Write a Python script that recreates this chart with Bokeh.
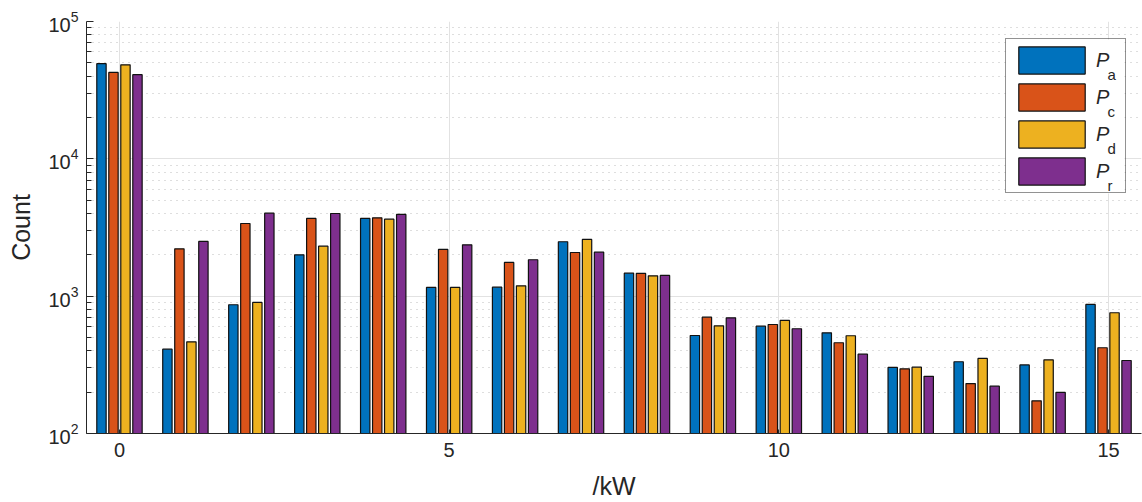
from bokeh.plotting import figure
from bokeh.models import (Range1d, FixedTicker, Legend, LegendItem, Label, ColumnDataSource,
                          BoxAnnotation, LogTickFormatter)
from bokeh.transform import dodge
from bokeh.embed import file_html
from bokeh.resources import INLINE

# ---- data ----
kw = list(range(16))
p_a = [49300, 411, 866, 2000, 3680, 1157, 1163, 2490, 1471, 517, 605, 541, 303, 333, 316, 870]
p_c = [42600, 2213, 3383, 3680, 3722, 2188, 1760, 2080, 1463, 703, 622, 458, 296, 231, 173, 421]
p_d = [48400, 465, 900, 2312, 3637, 1157, 1190, 2588, 1406, 608, 666, 515, 304, 352, 344, 757]
p_r = [41000, 2502, 4020, 4000, 3936, 2366, 1842, 2090, 1415, 696, 579, 378, 261, 221, 199, 340]
series = [p_a, p_c, p_d, p_r]
subscripts = ["a", "c", "d", "r"]
colors = ["#0072BD", "#D95319", "#EDB120", "#7E2F8E"]
x_ticks = [0, 5, 10, 15]
y_ticks = [100, 1000, 10000, 100000]
y_minor = [m * 10 ** e for e in (2, 3, 4) for m in range(2, 10)]

FONT = "Liberation Sans"
TXT = "#262626"

p = figure(width=1142, height=502,
           x_range=Range1d(-0.5, 15.5), y_range=Range1d(100, 100000),
           y_axis_type="log", output_backend="svg", toolbar_location=None,
           min_border_left=86, min_border_right=1, min_border_top=21, min_border_bottom=69)
p.outline_line_color = None
p.background_fill_color = "white"
p.border_fill_color = "white"

offsets = [-0.273, -0.091, 0.091, 0.273]
renderers = []
for vals, col, off in zip(series, colors, offsets):
    src = ColumnDataSource(dict(x=kw, top=vals))
    r = p.vbar(x=dodge("x", off, range=p.x_range), top="top", bottom=1, width=0.142,
               source=src, fill_color=col, line_color="#111111", line_width=1.2)
    renderers.append(r)

# grids
p.xgrid.ticker = FixedTicker(ticks=x_ticks)
p.xgrid.grid_line_color = "#e2e2e2"
p.xgrid.grid_line_width = 1
p.ygrid.ticker = FixedTicker(ticks=y_ticks, minor_ticks=y_minor)
p.ygrid.grid_line_color = "#e2e2e2"
p.ygrid.grid_line_width = 1
p.ygrid.minor_grid_line_color = "#bdbdbd"
p.ygrid.minor_grid_line_dash = "1 5"
p.ygrid.minor_grid_line_width = 1.2

# axes
for ax in (p.xaxis[0], p.yaxis[0]):
    ax.axis_line_color = TXT
    ax.major_tick_line_color = TXT
    ax.minor_tick_line_color = TXT
    ax.major_tick_out = 0
    ax.minor_tick_out = 0
    ax.major_label_text_font = FONT
    ax.major_label_text_font_size = "20px"
    ax.major_label_text_color = TXT
    ax.axis_label_text_font = FONT
    ax.axis_label_text_font_size = "25px"
    ax.axis_label_text_font_style = "normal"
    ax.axis_label_text_color = TXT

p.xaxis.ticker = FixedTicker(ticks=x_ticks)
p.xaxis.major_tick_in = 4
p.xaxis.minor_tick_in = 0
p.xaxis.major_label_standoff = 9
p.xaxis.axis_label = "/kW"
p.xaxis.axis_label_standoff = 12

p.yaxis.ticker = FixedTicker(ticks=y_ticks, minor_ticks=y_minor)
p.yaxis.formatter = LogTickFormatter()
p.yaxis.major_tick_in = 7
p.yaxis.minor_tick_in = 5
p.yaxis.major_label_standoff = 8
p.yaxis.axis_label = "Count"
p.yaxis.axis_label_standoff = 10

# legend: white backing box under the (transparent) legend so grid lines are hidden
p.add_layout(BoxAnnotation(left=919, right=1038, bottom=240, top=394,
                           left_units="screen", right_units="screen",
                           bottom_units="screen", top_units="screen",
                           fill_color="white", fill_alpha=1.0, line_color=None,
                           level="underlay"))
items = [LegendItem(label="P", renderers=[r]) for r in renderers]
legend = Legend(items=items, location=(919, 240), glyph_width=83, glyph_height=34,
                spacing=3, padding=4, margin=0, label_standoff=3, label_width=25,
                label_text_font=FONT, label_text_font_style="italic",
                label_text_font_size="20px", label_text_color=TXT,
                border_line_color="#262626", border_line_width=1,
                background_fill_alpha=0.0)
p.add_layout(legend)
for i, s in enumerate(subscripts):
    p.add_layout(Label(x=1021, y=359 - 37 * i, x_units="screen", y_units="screen",
                       text=s, text_font=FONT, text_font_size="15px",
                       text_color=TXT, text_baseline="alphabetic"))

open("out.html", "w").write(file_html(p, INLINE))
